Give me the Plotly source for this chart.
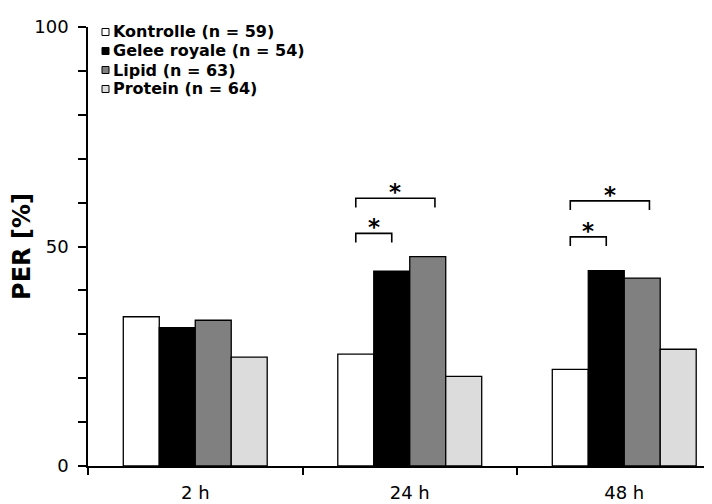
import plotly.graph_objects as go

# ---- data ----
categories = ["2 h", "24 h", "48 h"]
series_names = ["Kontrolle (n = 59)", "Gelee royale (n = 54)", "Lipid (n = 63)", "Protein (n = 64)"]
kontrolle = [34.0, 25.5, 22.0]
gelee_royale = [31.5, 44.4, 44.5]
lipid = [33.2, 47.7, 42.8]
protein = [24.8, 20.4, 26.6]
series_values = [kontrolle, gelee_royale, lipid, protein]
series_colors = ["#ffffff", "#000000", "#808080", "#dcdcdc"]

# significance brackets: (group index, from series pos, to series pos, bracket top level)
sig_group = [1, 1, 2, 2]
sig_from = [0, 0, 0, 0]
sig_to = [1, 2.2, 1, 2.2]
sig_level = [53.0, 61.0, 52.2, 60.4]

y_ticks = [0, 50, 100]

# ---- layout geometry (page body has an 8px margin) ----
OFF = 8
W, H = 712 - OFF, 504 - OFF
ML, MR, MT, MB = 88 - OFF, 0, 27 - OFF, 38
BARGAP = 0.329
n_series = len(series_values)
bw = (1 - BARGAP) / n_series
x_idx = list(range(len(categories)))
x_end = -0.5 + (W - ML - MR) / 214.5

fig = go.Figure()
for name, vals, col in zip(series_names, series_values, series_colors):
    fig.add_trace(go.Bar(
        x=x_idx, y=vals, name=name,
        marker=dict(color=col, line=dict(color="#000000", width=1.3)),
        showlegend=False,
    ))

font_family = "DejaVu Sans, Verdana, sans-serif"

shapes = []
annotations = []
leg = 2.1
for g, a, b, lvl in zip(sig_group, sig_from, sig_to, sig_level):
    xa = g + (a - (n_series - 1) / 2) * bw
    xb = g + (b - (n_series - 1) / 2) * bw
    shapes.append(dict(
        type="path", xref="x", yref="y",
        path=f"M {xa},{lvl - leg} L {xa},{lvl} L {xb},{lvl} L {xb},{lvl - leg}",
        line=dict(color="#000000", width=1.6),
    ))
    annotations.append(dict(
        x=(xa + xb) / 2, y=lvl, xref="x", yref="y",
        text="<b>*</b>", showarrow=False, xanchor="center", yanchor="bottom",
        font=dict(family=font_family, size=23, color="#000000"), yshift=-9,
    ))

# custom legend (window pixel layout converted to paper coords)
pw = W - ML - MR
ph = H - MT - MB
def px_to_paper(px, py):
    px -= OFF
    py -= OFF
    return (px - ML) / pw, (H - MB - py) / ph

row_y = [32, 51, 70, 89]
for name, col, ry in zip(series_names, series_colors, row_y):
    x0, y0 = px_to_paper(102, ry + 3.5)
    x1, y1 = px_to_paper(109, ry - 3.5)
    shapes.append(dict(type="rect", xref="paper", yref="paper", x0=x0, y0=y0, x1=x1, y1=y1,
                       fillcolor=col, line=dict(color="#000000", width=1)))
    tx, ty = px_to_paper(110.5, ry)
    annotations.append(dict(
        x=tx, y=ty, xref="paper", yref="paper", text=f"<b>{name}</b>", showarrow=False,
        xanchor="left", yanchor="middle",
        font=dict(family=font_family, size=16, color="#000000"),
    ))

fig.update_layout(
    width=W, height=H,
    margin=dict(l=ML, r=MR, t=MT, b=MB, pad=0, autoexpand=False),
    paper_bgcolor="#ffffff", plot_bgcolor="#ffffff",
    barmode="group", bargap=BARGAP, bargroupgap=0,
    font=dict(family=font_family, size=18, color="#000000"),
    shapes=shapes, annotations=annotations,
    showlegend=False,
    xaxis=dict(
        range=[-0.5, x_end], tickmode="array", tickvals=x_idx, ticktext=categories,
        ticks="", showline=True, linecolor="#000000", linewidth=1.5,
        showgrid=False, zeroline=False, ticklabelstandoff=10, automargin=False,
        minor=dict(tickmode="array", tickvals=[-0.5, 0.5, 1.5], ticks="outside",
                   ticklen=7, tickwidth=1.5, tickcolor="#000000", showgrid=False),
        tickfont=dict(size=18),
    ),
    yaxis=dict(
        range=[0, 100], tickmode="array", tickvals=y_ticks,
        ticks="outside", ticklen=8, tickwidth=1.5, tickcolor="#000000",
        showline=True, linecolor="#000000", linewidth=1.5,
        showgrid=False, zeroline=False, ticklabelstandoff=6, automargin=False,
        minor=dict(tickmode="linear", tick0=0, dtick=10, ticks="outside",
                   ticklen=8, tickwidth=1.5, tickcolor="#000000", showgrid=False),
        title=dict(text="<b>PER [%]</b>", font=dict(size=24), standoff=10),
        tickfont=dict(size=18),
    ),
)

fig.write_html("out.html")
